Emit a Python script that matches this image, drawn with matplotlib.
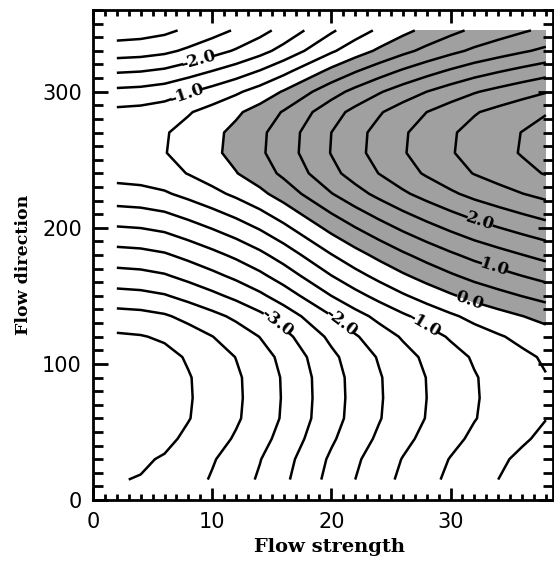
import numpy as np
import matplotlib.pyplot as plt
from matplotlib.ticker import MultipleLocator

strength = [2, 4, 6, 8, 10, 12, 14, 16, 18, 20, 22, 24, 26, 28, 30, 32, 34, 36, 38]
strength_effect = [0.0, 0.04, 0.14, 0.34, 0.56, 0.80, 1.08, 1.42, 1.80, 2.18,
                   2.52, 2.83, 3.12, 3.38, 3.62, 3.84, 4.02, 4.19, 4.35]

# flow direction grid and its contribution (values along the left edge)
direction = [15, 30, 45, 60, 75, 90, 105, 120, 135, 150, 165, 180,
             195, 210, 225, 240, 255, 270, 285, 300, 315, 330, 345]
direction_effect = [-4.52, -4.60, -4.75, -4.86, -4.88, -4.87, -4.79, -4.57,
                    -4.20, -3.68, -3.18, -2.70, -2.20, -1.70, -1.20, -0.82,
                    -0.66, -0.68, -0.88, -1.38, -2.05, -2.75, -3.25]

plain_levels = [-4.5, -3.5, -2.5, -1.5, -0.5, 0.5, 1.5, 2.5, 3.5]
label_levels = [-4.0, -3.0, -2.0, -1.0, 0.0, 1.0, 2.0, 3.0]
label_spots = [(15.3, 129), (20.8, 130), (27.8, 129), (31.6, 147),
               (33.7, 171), (32.5, 205), (8.9, 322), (8.1, 293)]

S, D = np.meshgrid(strength, direction)
Z = np.add.outer(direction_effect, strength_effect)

fig = plt.figure(figsize=(5.54, 5.67), dpi=100)
ax = fig.add_axes([93/554, 67/567, 460/554, 490/567])

ax.contourf(S, D, Z, levels=[0, 100], colors=['#a0a0a0'])
ax.contour(S, D, Z, levels=plain_levels, colors='black', linewidths=1.8,
           linestyles='solid', negative_linestyles='solid')
cs = ax.contour(S, D, Z, levels=label_levels, colors='black', linewidths=1.8,
                linestyles='solid', negative_linestyles='solid')
texts = ax.clabel(cs, manual=label_spots, fmt='%.1f',
                  fontsize=12, inline=True, inline_spacing=1)
for t in texts:
    t.set_family('DejaVu Serif')
    t.set_weight('bold')

ax.set_xlim(0, 38.6)
ax.set_ylim(0, 360)
ax.xaxis.set_major_locator(MultipleLocator(10))
ax.xaxis.set_minor_locator(MultipleLocator(1))
ax.yaxis.set_major_locator(MultipleLocator(100))
ax.yaxis.set_minor_locator(MultipleLocator(10))

ax.tick_params(which='both', direction='in', top=True, right=True, width=2)
ax.tick_params(axis='x', which='major', length=9, pad=9, labelsize=15)
ax.tick_params(axis='x', which='minor', length=4)
ax.tick_params(axis='y', which='major', length=11, pad=8, labelsize=15)
ax.tick_params(axis='y', which='minor', length=7)
for sp in ax.spines.values():
    sp.set_linewidth(2)

for lab in ax.get_xticklabels() + ax.get_yticklabels():
    lab.set_family('DejaVu Sans')

ax.set_xlabel('Flow strength', fontsize=14, family='DejaVu Serif', weight='bold')
ax.set_ylabel('Flow direction', fontsize=12.5, family='DejaVu Serif', weight='bold')
ax.xaxis.set_label_coords(0.515, -0.078)
ax.yaxis.set_label_coords(-0.133, 0.48)

fig.savefig('out.png', dpi=100)
